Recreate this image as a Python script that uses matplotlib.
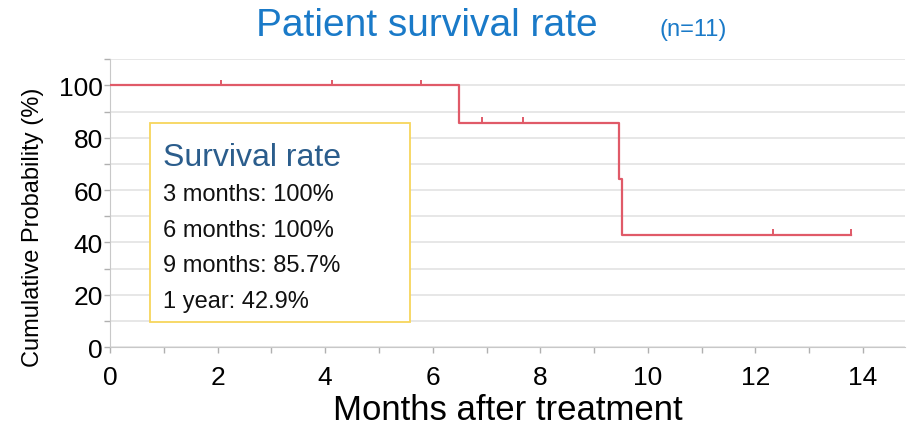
import matplotlib
matplotlib.use("Agg")
import matplotlib.pyplot as plt
from matplotlib.patches import Rectangle

plt.rcParams['font.family'] = ['Liberation Sans', 'DejaVu Sans']

# Kaplan-Meier step curve (months, % surviving)
step_months = [0, 6.48, 9.47, 9.52, 13.78]
step_surv = [100, 85.7, 64.3, 42.9, 42.9]

# censored observations
cens_months = [2.06, 4.12, 5.79, 6.92, 7.67, 12.33, 13.78]
cens_surv = [100, 100, 100, 85.7, 85.7, 42.9, 42.9]

box_title = "Survival rate"
box_lines = ["3 months: 100%", "6 months: 100%", "9 months: 85.7%", "1 year: 42.9%"]

fig = plt.figure(figsize=(9.09, 4.27), dpi=100)
ax = fig.add_axes([0.121, 0.185, 0.8746, 0.674])

ax.step(step_months, step_surv, where='post', color='#e05a68', lw=1.6, zorder=3)
ax.vlines(cens_months, cens_surv, [v + 2.2 for v in cens_surv], color='#e05a68', lw=1.4, zorder=3)

ax.set_xlim(0, 14.78)
ax.set_ylim(0, 110)
ax.set_xticks(range(0, 15, 2))
ax.set_xticks(range(0, 15), minor=True)
ax.set_yticks(range(0, 101, 20))
ax.set_yticks(range(0, 111, 10), minor=True)
ax.grid(True, which='both', axis='y', color='#e3e3e3', lw=1.2, zorder=0)
ax.tick_params(which='both', direction='out', color='#b0b0b0', length=4, width=1)
ax.tick_params(axis='both', which='major', labelsize=19, pad=1)
ax.tick_params(axis='x', which='major', pad=9)
for s in ['top', 'right']:
    ax.spines[s].set_visible(False)
for s in ['left', 'bottom']:
    ax.spines[s].set_color('#c8c8c8')

ax.set_xlabel("Months after treatment", fontsize=25)
ax.xaxis.set_label_coords(0.5, -0.16)
ax.xaxis.label.set_va('top')
ax.set_ylabel("Cumulative Probability (%)", fontsize=17)
ax.yaxis.set_label_coords(-0.083, 0.42)

# summary box
ax.add_patch(Rectangle((0.74, 9.5), 4.83, 76, transform=ax.transData, fill=True,
                       facecolor='white', edgecolor='#f7d55c', lw=1.3, zorder=4))
ax.text(0.98, 72.5, box_title, fontsize=23, color='#2b5d8c', va='center', zorder=5)
for i, line in enumerate(box_lines):
    ax.text(0.98, 58.5 - i * 13.6, line, fontsize=17, color='#111111', va='center', zorder=5)

fig.text(0.47, 0.938, "Patient survival rate", fontsize=28, color='#1a7ac8', va='center', ha='center')
fig.text(0.725, 0.93, "(n=11)", fontsize=17, color='#1a7ac8', va='center')

fig.savefig("out.png", dpi=100)
